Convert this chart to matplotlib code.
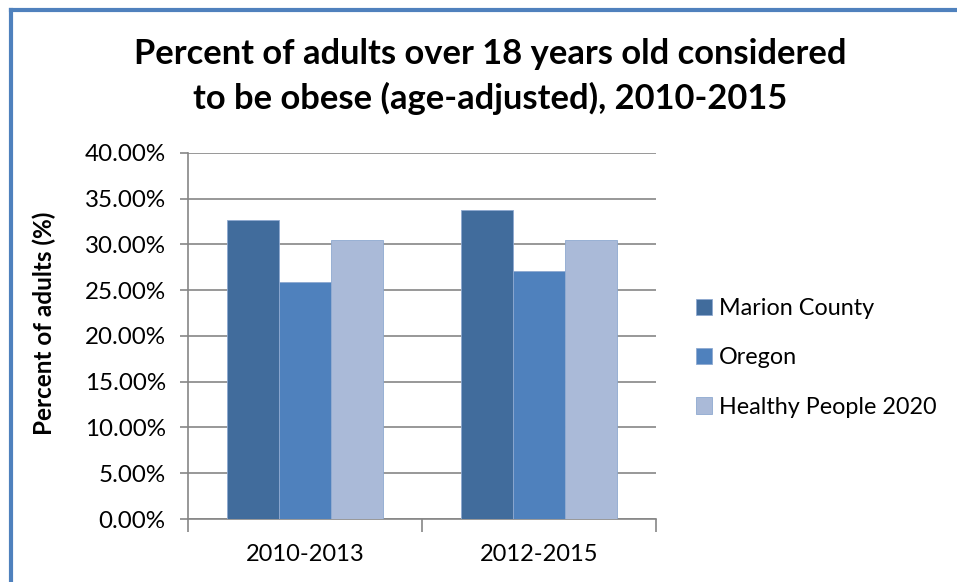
import matplotlib
matplotlib.use("Agg")
import matplotlib.pyplot as plt
from matplotlib.lines import Line2D
from matplotlib.ticker import FuncFormatter, MultipleLocator
import numpy as np

categories = ["2010-2013", "2012-2015"]
series_names = ["Marion County", "Oregon", "Healthy People 2020"]
marion = [32.7, 33.7]
oregon = [25.9, 27.1]
healthy_people = [30.5, 30.5]
colors = ["#416C9C", "#4F81BD", "#AABAD8"]

plt.rcParams['font.family'] = ['Lato', 'DejaVu Sans']

fig = plt.figure(figsize=(9.57, 5.82), dpi=100)
ax = fig.add_axes([0.1964, 0.1082, 0.489, 0.6294])

x = np.arange(len(categories)) + 0.5
w = 1 / 4.5
for i, (vals, name) in enumerate(zip([marion, oregon, healthy_people], series_names)):
    ax.bar(x + (i - 1) * w, vals, width=w, color=colors[i], label=name,
           edgecolor="#8EA9D0", linewidth=0.6, zorder=3)

ax.set_xlim(0, 2)
ax.set_ylim(0, 40)
ax.yaxis.set_major_locator(MultipleLocator(5))
ax.yaxis.set_major_formatter(FuncFormatter(lambda v, p: f"{v:.2f}%"))
ax.set_xticks([0, 1, 2])
ax.set_xticks(x, minor=True)
ax.set_xticklabels(["", "", ""])
ax.set_xticklabels(categories, minor=True)
ax.tick_params(axis="x", which="major", length=9, color="#868686", width=1.2)
ax.tick_params(axis="x", which="minor", length=0, labelsize=17, pad=18)
ax.tick_params(axis="y", length=6, color="#868686", width=1.2, labelsize=17.4, pad=10)
ax.grid(axis="y", color="#868686", linewidth=1.2, zorder=0)
for s in ["top", "right"]:
    ax.spines[s].set_visible(False)
ax.spines["left"].set_color("#868686")
ax.spines["bottom"].set_color("#868686")
ax.spines["left"].set_linewidth(1.2)
ax.spines["bottom"].set_linewidth(1.2)

ax.set_ylabel("Percent of adults (%)", fontsize=17.5, fontweight="bold")
ax.yaxis.set_label_coords(-0.282, 0.535)

fig.text(0.512, 0.869, "Percent of adults over 18 years old considered\nto be obese (age-adjusted), 2010-2015",
         ha="center", va="center", fontsize=24.8, fontweight="bold", linespacing=1.44)

leg = ax.legend(loc="center left", bbox_to_anchor=(1.04, 0.44), frameon=False,
                fontsize=16.8, handlelength=0.7, handleheight=0.7, handletextpad=0.3,
                labelspacing=1.22)

fig.add_artist(Line2D([0.0115, 0.0115], [0, 0.982], color="#4F81BD", linewidth=3,
                      transform=fig.transFigure))
fig.add_artist(Line2D([0.0115, 1.0], [0.982, 0.982], color="#4F81BD", linewidth=3,
                      transform=fig.transFigure))

fig.savefig("out.png", dpi=100)
